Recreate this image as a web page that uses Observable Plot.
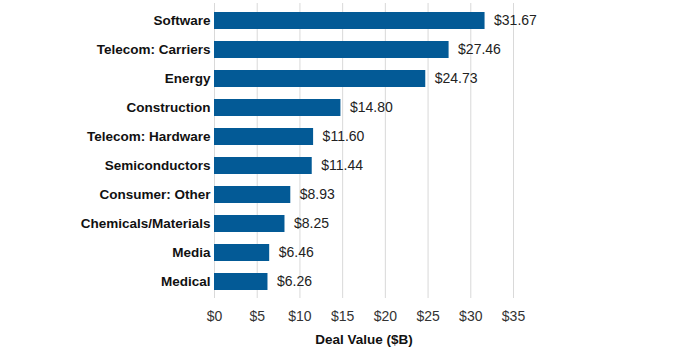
<!DOCTYPE html>
<html>
<head>
<meta charset="utf-8">
<script src="https://cdn.jsdelivr.net/npm/d3@7"></script>
<script src="https://cdn.jsdelivr.net/npm/@observablehq/plot@0.6"></script>
<style>
  html, body { margin: 0; padding: 0; background: #fff; }
  #chart svg { font-family: "Liberation Sans", Arial, sans-serif; }
</style>
</head>
<body>
<div id="chart"></div>
<script>
const categories = ["Software", "Telecom: Carriers", "Energy", "Construction", "Telecom: Hardware",
  "Semiconductors", "Consumer: Other", "Chemicals/Materials", "Media", "Medical"];
const values = [31.67, 27.46, 24.73, 14.80, 11.60, 11.44, 8.93, 8.25, 6.46, 6.26];
const xTicks = [0, 5, 10, 15, 20, 25, 30, 35];
const xLabel = "Deal Value ($B)";

const data = categories.map((c, i) => ({category: c, value: values[i]}));

const chart = Plot.plot({
  width: 700,
  height: 359,
  marginLeft: 214,
  marginRight: 187,
  marginTop: 3,
  marginBottom: 61,
  style: {fontFamily: "'Liberation Sans', Arial, sans-serif", background: "#fff"},
  x: {domain: [0, 35], ticks: xTicks},
  y: {domain: categories, paddingInner: 0.42, paddingOuter: 0.21},
  marks: [
    Plot.gridX(xTicks, {stroke: "#d9d9d9", strokeOpacity: 1, strokeWidth: 1}),
    Plot.barX(data, {x: "value", y: "category", fill: "#035a96"}),
    Plot.text(data, {x: "value", y: "category", text: d => "$" + d.value.toFixed(2),
      dx: 9, textAnchor: "start", fontSize: 14, fill: "#222"}),
    Plot.axisY({tickSize: 0, tickPadding: 4, fontSize: 13.5, fontWeight: "bold", fill: "#111", label: null}),
    Plot.axisX(xTicks, {tickSize: 0, tickPadding: 13, fontSize: 14, fill: "#333",
      tickFormat: d => "$" + d, label: null}),
    Plot.text([xLabel], {frameAnchor: "bottom", dy: 45, fontSize: 13.5, fontWeight: "bold", fill: "#111", text: d => d})
  ]
});
document.getElementById("chart").appendChild(chart);
</script>
</body>
</html>
